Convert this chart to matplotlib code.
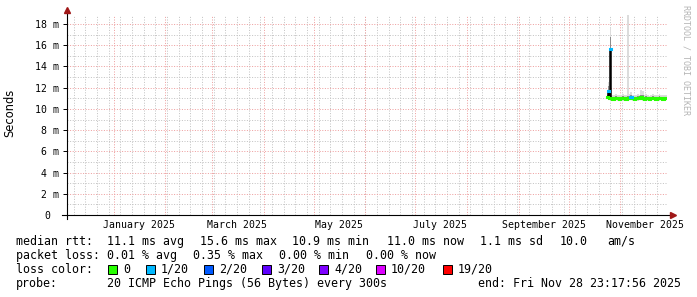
import datetime as dt
import matplotlib
matplotlib.use("Agg")
import matplotlib.pyplot as plt
import matplotlib.dates as mdates
import matplotlib.transforms as mtransforms
from matplotlib.patches import Rectangle

W, H = 697, 297

graph_start = dt.datetime(2024, 12, 3, 23, 17, 56)
graph_end = dt.datetime(2025, 11, 28, 23, 17, 56)

# samples: each value holds until the next sample
sample_times = ["2025-10-24 00:00", "2025-10-24 14:00", "2025-10-25 04:00", "2025-10-25 18:00",
                "2025-10-26 08:00", "2025-10-27 00:00", "2025-10-28 00:00", "2025-10-29 00:00",
                "2025-10-30 00:00", "2025-10-31 00:00", "2025-11-01 00:00", "2025-11-02 00:00",
                "2025-11-03 00:00", "2025-11-04 00:00", "2025-11-05 00:00", "2025-11-06 00:00",
                "2025-11-07 00:00", "2025-11-08 00:00", "2025-11-09 00:00", "2025-11-10 00:00",
                "2025-11-11 00:00", "2025-11-12 00:00", "2025-11-13 00:00", "2025-11-14 00:00",
                "2025-11-15 00:00", "2025-11-16 00:00", "2025-11-17 00:00", "2025-11-18 00:00",
                "2025-11-19 00:00", "2025-11-20 00:00", "2025-11-21 00:00", "2025-11-22 00:00",
                "2025-11-23 00:00", "2025-11-24 00:00", "2025-11-25 00:00", "2025-11-26 00:00",
                "2025-11-27 00:00", "2025-11-28 00:00"]
# median rtt in ms
median_ms = [11.1, 11.7, 11.0, 15.6, 11.0, 10.95, 11.0, 11.05, 11.0, 10.95, 11.0, 11.05, 11.0, 10.95,
             11.0, 11.05, 11.1, 11.0, 10.95, 11.0, 11.05, 11.0, 11.1, 11.0, 10.95, 11.05, 11.0, 10.9,
             11.0, 11.05, 11.0, 10.95, 11.0, 11.05, 11.0, 10.95, 11.0, 11.0]
# index into loss_colors
loss_idx = [0, 1, 0, 1, 0, 0, 0, 0, 0, 0, 0, 0, 0, 0, 0, 0, 1, 0, 0, 0, 0, 0, 0, 0, 0, 0, 0, 0,
            0, 0, 0, 0, 0, 0, 0, 0, 0, 0]
# smoke: min / lower / upper / max ping in ms
ping_min = [10.9, 11.0, 10.8, 10.9, 10.8, 10.75, 10.8, 10.8, 10.75, 10.8, 10.8, 10.75, 10.8, 10.8,
            10.75, 10.8, 10.8, 10.75, 10.8, 10.8, 10.75, 10.8, 10.8, 10.75, 10.8, 10.8, 10.75, 10.7,
            10.8, 10.8, 10.75, 10.8, 10.8, 10.75, 10.8, 10.75, 10.8, 10.8]
ping_low = [10.95, 11.2, 10.9, 11.3, 10.9, 10.85, 10.9, 10.9, 10.85, 10.85, 10.9, 10.9, 10.9, 10.85,
            10.9, 10.9, 10.95, 10.9, 10.85, 10.9, 10.9, 10.9, 10.95, 10.9, 10.85, 10.9, 10.9, 10.8,
            10.9, 10.9, 10.9, 10.85, 10.9, 10.9, 10.9, 10.85, 10.9, 10.9]
ping_high = [11.3, 12.2, 11.15, 16.8, 11.2, 11.1, 11.15, 11.2, 11.15, 11.1, 11.15, 11.2, 11.15, 11.1,
             11.2, 11.2, 11.3, 11.15, 11.1, 11.15, 11.2, 11.15, 11.35, 11.3, 11.1, 11.2, 11.15, 11.05,
             11.15, 11.2, 11.15, 11.1, 11.15, 11.2, 11.15, 11.1, 11.15, 11.15]
ping_max = [11.6, 12.5, 11.3, 17.6, 11.4, 11.3, 11.35, 11.4, 11.3, 11.3, 11.35, 11.4, 11.3, 11.3,
            18.9, 11.4, 11.6, 11.35, 11.3, 11.35, 11.4, 11.35, 11.8, 11.7, 11.3, 11.4, 11.35, 11.25,
            11.35, 11.4, 11.35, 11.3, 11.35, 11.4, 11.35, 11.3, 11.35, 11.35]

loss_labels = ["0", "1/20", "2/20", "3/20", "4/20", "10/20", "19/20"]
loss_colors = ["#26ff00", "#00b8ff", "#0059ff", "#5e00ff", "#7e00ff", "#dd00ff", "#ff0000"]

y_ticks = [0, 2, 4, 6, 8, 10, 12, 14, 16, 18]
y_labels = ["0", "2 m", "4 m", "6 m", "8 m", "10 m", "12 m", "14 m", "16 m", "18 m"]
x_label_months = [(2025, 1), (2025, 3), (2025, 5), (2025, 7), (2025, 9), (2025, 11)]

MONO = "DejaVu Sans Mono"

fig = plt.figure(figsize=(W / 100, H / 100), dpi=100)
fig.patch.set_facecolor("white")
ax = fig.add_axes([67 / W, (H - 215) / H, 600 / W, 200 / H])
ax.set_xlim(mdates.date2num(graph_start), mdates.date2num(graph_end))
ax.set_ylim(0, 200 / 10.61)
for s in ax.spines.values():
    s.set_visible(False)

# grid (dotted, weeks start on sunday)
dot = (0, (1, 1.6))
grey = "#c4c4c4"
red = "#eea0a0"
d = dt.datetime(2024, 12, 8)
while d < graph_end:
    ax.axvline(mdates.date2num(d), color=grey, lw=0.72, ls=dot, zorder=0)
    d += dt.timedelta(days=7)
for v in range(1, 19, 2):
    ax.axhline(v, color=grey, lw=0.72, ls=dot, zorder=0)
for m in range(1, 12):
    ax.axvline(mdates.date2num(dt.datetime(2025, m, 1)), color=red, lw=0.72, ls=dot, zorder=1)
for v in range(2, 19, 2):
    ax.axhline(v, color=red, lw=0.72, ls=dot, zorder=1)

# smoke + median
t = [dt.datetime.strptime(s, "%Y-%m-%d %H:%M") for s in sample_times]
edges = mdates.date2num(t + [dt.datetime(2025, 11, 28, 22, 0)])
ext = lambda a: list(a) + [a[-1]]
ax.fill_between(edges, ext(ping_min), ext(ping_max), step="post", color="#dcdcdc", lw=0, zorder=2)
ax.fill_between(edges, ext(ping_low), ext(ping_high), step="post", color="#8c8c8c", lw=0, zorder=3)
ax.step(edges, ext(median_ms), where="post", color="black", lw=1.1, zorder=4)
for i in range(len(median_ms)):
    ax.hlines(median_ms[i], edges[i], edges[i + 1], color=loss_colors[loss_idx[i]], lw=2.2,
              capstyle="projecting", zorder=5 + (loss_idx[i] > 0))

# axes lines and arrows
ax.plot([-5 / 600, 603 / 600], [0, 0], transform=ax.transAxes, color="black", lw=0.8,
        clip_on=False, zorder=6)
ax.plot([0, 0], [-4 / 200, 203 / 200], transform=ax.transAxes, color="black", lw=0.8,
        clip_on=False, zorder=6)
ax.plot(606 / 600, 0, marker=">", ms=4, color="#a01818", transform=ax.transAxes, clip_on=False,
        zorder=7)
ax.plot(0, 205 / 200, marker="^", ms=4, color="#a01818", transform=ax.transAxes, clip_on=False,
        zorder=7)

# ticks
ax.set_yticks(y_ticks)
ax.set_yticklabels(y_labels, family=MONO, fontsize=7.1)
ax.tick_params(axis="y", length=3, width=0.7, pad=2.5, direction="out")
zero_lab = ax.get_yticklabels()[0]
zero_lab.set_transform(zero_lab.get_transform() +
                       mtransforms.ScaledTranslation(-9 / 100, 0, fig.dpi_scale_trans))
mid = [mdates.date2num(dt.datetime(y, m, 16)) for y, m in x_label_months]
ax.set_xticks(mid)
ax.set_xticklabels([dt.datetime(y, m, 1).strftime("%B %Y") for y, m in x_label_months],
                   family=MONO, fontsize=7.1)
ax.tick_params(axis="x", length=0, pad=3.5)

fig.text(10 / W, 1 - 113 / H, "Seconds", rotation=90, va="center", ha="center",
         family="DejaVu Sans", fontsize=8.3)
fig.text(686 / W, 1 - 5 / H, "RRDTOOL / TOBI OETIKER", rotation=270, va="top", ha="center",
         family=MONO, fontsize=6, color="#b4b4b4")


def ftext(x, y, s):
    # y is the row centre; text is set on a baseline 4 px below it
    fig.text(x / W, 1 - (y + 4) / H, s, va="baseline", ha="left", family=MONO, fontsize=8.4)


row1 = [(16, "median rtt:"), (107, "11.1 ms avg"), (200, "15.6 ms max"), (292, "10.9 ms min"),
        (387, "11.0 ms now"), (480, "1.1 ms sd"), (560, "10.0"), (607, "am/s")]
row2 = [(16, "packet loss:"), (107, "0.01 % avg"), (193, "0.35 % max"), (279, "0.00 % min"),
        (366, "0.00 % now")]
row4 = [(16, "probe:"), (107, "20 ICMP Echo Pings (56 Bytes) every 300s"),
        (478, "end: Fri Nov 28 23:17:56 2025")]
for x, s in row1:
    ftext(x, 241, s)
for x, s in row2:
    ftext(x, 255, s)
for x, s in row4:
    ftext(x, 283, s)
ftext(16, 269, "loss color:")
square_x = [108, 146, 204, 262, 319, 376, 443]
for sx, lab, col in zip(square_x, loss_labels, loss_colors):
    fig.patches.append(Rectangle((sx / W, 1 - 274 / H), 9 / W, 9 / H, transform=fig.transFigure,
                                 facecolor=col, edgecolor="black", lw=0.7))
    ftext(sx + 15, 269, lab)

fig.savefig("out.png", dpi=100, facecolor="white")
